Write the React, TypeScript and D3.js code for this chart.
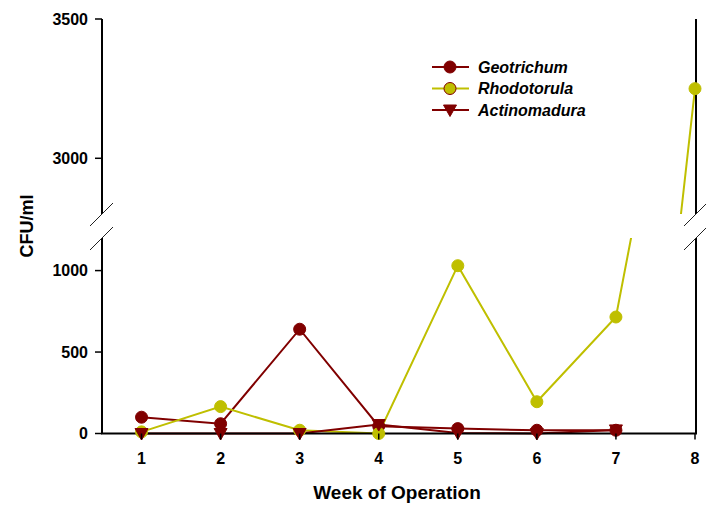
import React from "react";
import { scaleLinear, line } from "d3";

// weeks of operation
const weeks = [1, 2, 3, 4, 5, 6, 7, 8];
// CFU/ml per species
const geotrichum = [100, 60, 640, 45, 30, 20, 20];
const rhodotorula = [10, 165, 20, 0, 1030, 195, 715, 3250];
const actinomadura = [0, 0, 0, 55, 3, 0, 22];

const lowerTicks = [0, 500, 1000];
const upperTicks = [3000, 3500];

const RED = "#800000";
const YEL = "#BFBF00";

const series = [
  { name: "Geotrichum", values: geotrichum, color: RED, marker: "circle", fill: RED, legendStroke: RED },
  { name: "Rhodotorula", values: rhodotorula, color: YEL, marker: "circle", fill: YEL, legendStroke: RED },
  { name: "Actinomadura", values: actinomadura, color: RED, marker: "tri", fill: RED, legendStroke: RED },
];

const W = 706;
const H = 506;
const left = 102;
const right = 696;
const bottom = 433.5;
const breakLow = 238;
const breakHigh = 214;
const top = 19;

export default function App() {
  const x = scaleLinear().domain([0.5, 8]).range([left, right - 1]);
  const yLow = scaleLinear().domain([0, 1200]).range([bottom, breakLow]);
  const yHigh = scaleLinear().domain([2800, 3500]).range([breakHigh, top]);

  const font = "Arial, 'Liberation Sans', sans-serif";

  const marker = (kind: string, cx: number, cy: number, fill: string, stroke: string, key: string) =>
    kind === "circle" ? (
      <circle key={key} cx={cx} cy={cy} r={6} fill={fill} stroke={stroke} strokeWidth={1} />
    ) : (
      <path
        key={key}
        d={`M${cx - 6.5},${cy - 5} L${cx + 6.5},${cy - 5} L${cx},${cy + 6.5} Z`}
        fill={fill}
        stroke={stroke}
        strokeWidth={1}
      />
    );

  const brk = (ax: number, ay: number) => (
    <line x1={ax - 12} y1={ay + 12} x2={ax + 11} y2={ay - 11} stroke="#222" strokeWidth={1} />
  );

  return (
    <svg
      width={W}
      height={H}
      style={{ position: "absolute", left: 0, top: 0, background: "#fff" }}
      fontFamily={font}
    >
      <defs>
        <clipPath id="clipLow">
          <rect x={left} y={breakLow} width={right - left} height={bottom - breakLow + 10} />
        </clipPath>
        <clipPath id="clipHigh">
          <rect x={left} y={0} width={right - left} height={breakHigh} />
        </clipPath>
      </defs>

      {/* data lines, drawn once per axis segment and clipped */}
      {series.map((s) => {
        const pts = s.values.map((v, i) => [weeks[i], v] as [number, number]);
        const lo = line<[number, number]>().x((d) => x(d[0])).y((d) => yLow(d[1]));
        const hi = line<[number, number]>().x((d) => x(d[0])).y((d) => yHigh(d[1]));
        return (
          <g key={s.name}>
            <path d={lo(pts) || ""} fill="none" stroke={s.color} strokeWidth={2} clipPath="url(#clipLow)" />
            <path d={hi(pts) || ""} fill="none" stroke={s.color} strokeWidth={2} clipPath="url(#clipHigh)" />
          </g>
        );
      })}

      {/* axes */}
      <g stroke="#000" strokeWidth={2}>
        <line x1={left} y1={top} x2={left} y2={breakHigh} />
        <line x1={left} y1={breakLow} x2={left} y2={bottom} />
        <line x1={right} y1={top} x2={right} y2={breakHigh} />
        <line x1={right} y1={breakLow} x2={right} y2={bottom} />
        <line x1={left - 1} y1={bottom} x2={right + 1} y2={bottom} />
      </g>
      {brk(left, breakHigh)}
      {brk(left, breakLow)}
      {brk(right, breakHigh)}
      {brk(right, breakLow)}

      {/* markers */}
      {series.map((s) =>
        s.values.map((v, i) =>
          marker(
            s.marker,
            x(weeks[i]),
            v > 1200 ? yHigh(v) : yLow(v),
            s.fill,
            s.fill,
            `${s.name}-${i}`
          )
        )
      )}

      {/* y ticks */}
      {lowerTicks.map((t) => (
        <g key={`l${t}`}>
          <line x1={left - 7} x2={left} y1={yLow(t)} y2={yLow(t)} stroke="#000" strokeWidth={1.5} />
          <text x={left - 14} y={yLow(t)} dy="0.35em" textAnchor="end" fontSize={16} fontWeight="bold">
            {t}
          </text>
        </g>
      ))}
      {upperTicks.map((t) => (
        <g key={`u${t}`}>
          <line x1={left - 7} x2={left} y1={yHigh(t)} y2={yHigh(t)} stroke="#000" strokeWidth={1.5} />
          <text x={left - 14} y={yHigh(t)} dy="0.35em" textAnchor="end" fontSize={16} fontWeight="bold">
            {t}
          </text>
        </g>
      ))}

      {/* x ticks */}
      {weeks.map((w) => (
        <g key={`x${w}`}>
          <line x1={x(w)} x2={x(w)} y1={bottom} y2={bottom + 6} stroke="#000" strokeWidth={1.5} />
          <text x={x(w)} y={bottom + 25} dy="0.35em" textAnchor="middle" fontSize={16} fontWeight="bold">
            {w}
          </text>
        </g>
      ))}

      {/* axis titles */}
      <text x={397} y={499} textAnchor="middle" fontSize={19} fontWeight="bold">
        Week of Operation
      </text>
      <text
        transform={`translate(33, 226) rotate(-90)`}
        textAnchor="middle"
        fontSize={18}
        fontWeight="bold"
      >
        CFU/ml
      </text>

      {/* legend */}
      {series.map((s, i) => {
        const ly = 67 + i * 21.5;
        return (
          <g key={`leg${s.name}`}>
            <line x1={432} x2={469} y1={ly} y2={ly} stroke={s.color} strokeWidth={2} />
            {marker(s.marker, 450, ly, s.fill, s.legendStroke, `lm${i}`)}
            <text x={478} y={ly} dy="0.35em" fontSize={16} fontWeight="bold" fontStyle="italic">
              {s.name}
            </text>
          </g>
        );
      })}
    </svg>
  );
}
